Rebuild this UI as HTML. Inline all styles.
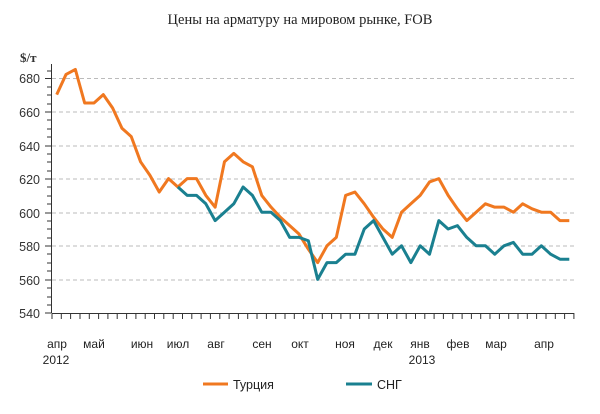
<!DOCTYPE html>
<html><head><meta charset="utf-8"><style>
body{margin:0;background:#fff;}
svg{display:block;font-family:"Liberation Sans",sans-serif;}
</style></head><body>
<svg width="600" height="414" viewBox="0 0 600 414">
<text x="300" y="24" text-anchor="middle" font-family="Liberation Serif,serif" font-size="14.5" fill="#222">Цены на арматуру на мировом рынке, FOB</text>
<text x="20" y="62" font-family="Liberation Serif,serif" font-weight="bold" font-size="13" fill="#333">$/т</text>
<g stroke="#bbb" stroke-dasharray="4,3" stroke-width="1">
<line x1="52" x2="574" y1="78.5" y2="78.5"/><line x1="52" x2="574" y1="112" y2="112"/><line x1="52" x2="574" y1="146" y2="146"/><line x1="52" x2="574" y1="179" y2="179"/><line x1="52" x2="574" y1="213" y2="213"/><line x1="52" x2="574" y1="246" y2="246"/><line x1="52" x2="574" y1="280" y2="280"/>
</g>
<g font-size="12.5" fill="#333" text-anchor="end">
<text x="40" y="83">680</text><text x="40" y="117">660</text><text x="40" y="151">640</text><text x="40" y="184">620</text><text x="40" y="218">600</text><text x="40" y="251">580</text><text x="40" y="285">560</text><text x="40" y="318">540</text>
</g>
<g stroke="#333" stroke-width="1">
<line x1="51.5" y1="64" x2="51.5" y2="313"/>
<line x1="51.5" y1="313.5" x2="574" y2="313.5"/>
<path d="M45 78.5h6M45 112h6M45 146h6M45 179h6M45 213h6M45 246h6M45 280h6M45 313h6M47 95h4M47 129h4M47 162h4M47 196h4M47 229h4M47 263h4M47 297h4M47 71h4M47 87h4M47 104h4M47 120h4M47 137h4M47 154h4M47 171h4M47 187h4M47 204h4M47 221h4M47 238h4M47 254h4M47 271h4M47 288h4M47 305h4"/>
</g>
<path id="tk" stroke="#333" d="" />
<g stroke="#333" stroke-width="1" id="ticks"></g>
<g transform="translate(56.7,1220.2) scale(9.32,-1.68)" fill="none" stroke-linejoin="round">
<polyline vector-effect="non-scaling-stroke" stroke="#f07820" stroke-width="3" points="0,670 1,682 2,685 3,665 4,665 5,670 6,662 7,650 8,645 9,630 10,622 11,612 12,620 13,615 14,620 15,620 16,610 17,603 18,630 19,635 20,630 21,627 22,610 23,603 24,597 25,592 26,587 27,578 28,570 29,580 30,585 31,610 32,612 33,605 34,597 35,590 36,585 37,600 38,605 39,610 40,618 41,620 42,610 43,602 44,595 45,600 46,605 47,603 48,603 49,600 50,605 51,602 52,600 53,600 54,595 55,595"/>
<polyline vector-effect="non-scaling-stroke" stroke="#1a8090" stroke-width="3" points="13,615 14,610 15,610 16,605 17,595 18,600 19,605 20,615 21,610 22,600 23,600 24,595 25,585 26,585 27,583 28,560 29,570 30,570 31,575 32,575 33,590 34,595 35,585 36,575 37,580 38,570 39,580 40,575 41,595 42,590 43,592 44,585 45,580 46,580 47,575 48,580 49,582 50,575 51,575 52,580 53,575 54,572 55,572"/>
</g>
<g stroke="#333" stroke-width="1">
<path d="M52 313v6M61.3 313v6M70.6 313v6M80 313v6M89.3 313v6M98.6 313v6M107.9 313v6M117.2 313v6M126.6 313v6M135.9 313v6M145.2 313v6M154.5 313v6M163.8 313v6M173.2 313v6M182.5 313v6M191.8 313v6M201.1 313v6M210.4 313v6M219.8 313v6M229.1 313v6M238.4 313v6M247.7 313v6M257 313v6M266.4 313v6M275.7 313v6M285 313v6M294.3 313v6M303.6 313v6M313 313v6M322.3 313v6M331.6 313v6M340.9 313v6M350.2 313v6M359.6 313v6M368.9 313v6M378.2 313v6M387.5 313v6M396.8 313v6M406.2 313v6M415.5 313v6M424.8 313v6M434.1 313v6M443.4 313v6M452.8 313v6M462.1 313v6M471.4 313v6M480.7 313v6M490 313v6M499.4 313v6M508.7 313v6M518 313v6M527.3 313v6M536.6 313v6M546 313v6M555.3 313v6M564.6 313v6M573.9 313v6"/>
</g>
<g font-size="12" fill="#222" text-anchor="middle">
<text x="57" y="348">апр</text><text x="94" y="348">май</text><text x="142" y="348">июн</text><text x="178" y="348">июл</text><text x="216" y="348">авг</text><text x="262" y="348">сен</text><text x="300" y="348">окт</text><text x="345" y="348">ноя</text><text x="383" y="348">дек</text><text x="420" y="348">янв</text><text x="458" y="348">фев</text><text x="496" y="348">мар</text><text x="544" y="348">апр</text>
<text x="56" y="364">2012</text><text x="422" y="364">2013</text>
</g>
<line x1="203" y1="384" x2="228" y2="384" stroke="#f07820" stroke-width="3"/>
<text x="233" y="389" font-size="12.5" fill="#222">Турция</text>
<line x1="346" y1="384" x2="372" y2="384" stroke="#1a8090" stroke-width="3"/>
<text x="377" y="389" font-size="12.5" fill="#222">СНГ</text>
</svg>
</body></html>
